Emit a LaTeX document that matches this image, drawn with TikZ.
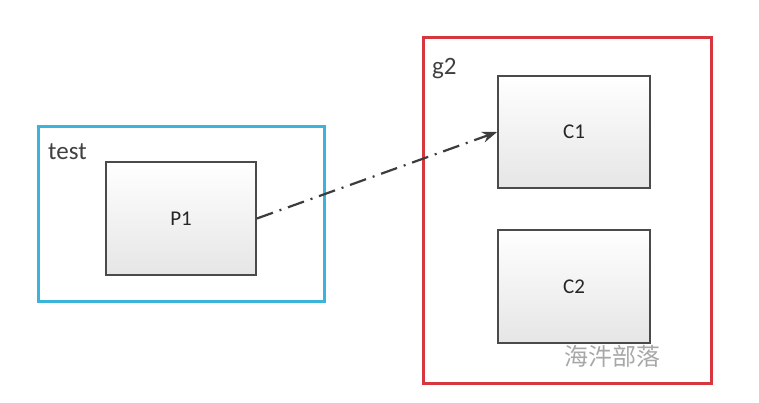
\documentclass[tikz,border=0pt]{standalone}
\usepackage{fontspec}
\setmainfont{Carlito}
\newfontfamily\cjk{Noto Sans CJK SC}
\usetikzlibrary{arrows.meta}
\definecolor{groupa}{HTML}{3BB4DC}
\definecolor{groupb}{HTML}{D8363E}
\definecolor{boxline}{HTML}{4A4A4A}
\definecolor{flow}{HTML}{3C3C3C}
\definecolor{mark}{HTML}{A8A8A8}
\tikzset{
  groupbox/.style={draw, line width=3pt, fill=white},
  procbox/.style={draw=boxline, line width=1.8pt, top color=white,
    bottom color=black!10, text=black!85, font=\fontsize{21}{23}\selectfont},
  grouplabel/.style={anchor=base west, inner sep=0pt, text=black!75,
    font=\fontsize{25}{27}\selectfont}
}

\begin{document}
\begin{tikzpicture}[x=1pt, y=-1pt]
  \useasboundingbox (0, 0) rectangle (759, 403);

  % Groups
  \node[groupbox, draw=groupa, minimum width=286pt, minimum height=174pt]
    (test) at (181, 214) {};
  \node[groupbox, draw=groupb, minimum width=288pt, minimum height=345pt]
    (g2) at (567, 210.5) {};
  \node[grouplabel] (testlbl) at (48, 160) {test};
  \node[grouplabel] (g2lbl) at (432, 75) {g2};

  % Boxes
  \node[procbox, minimum width=150pt, minimum height=113pt] (p1) at (181, 218.5) {P1};
  \node[procbox, minimum width=152pt, minimum height=112pt] (c1) at (574, 132) {C1};
  \node[procbox, minimum width=152pt, minimum height=113pt] (c2) at (574, 286.5) {C2};

  % Link
  \draw[-{Stealth[length=15pt, width=11pt]}, line width=2.2pt, draw=flow,
    dash pattern=on 17pt off 7pt on 2pt off 7pt] (p1.east) -- (c1.west);

  % Watermark
  \node[anchor=west, inner sep=0pt, text=mark, font=\cjk\fontsize{24}{26}\selectfont]
    (wm) at (564, 356) {海汼部落};
\end{tikzpicture}
\end{document}
